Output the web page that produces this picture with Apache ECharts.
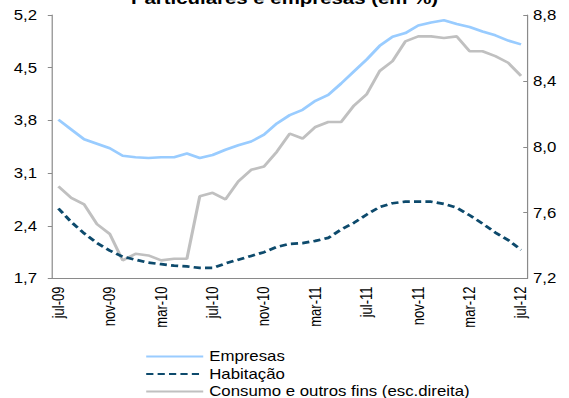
<!DOCTYPE html>
<html>
<head>
<meta charset="utf-8">
<script src="https://cdn.jsdelivr.net/npm/echarts@6/dist/echarts.min.js"></script>
<style>
  html, body { margin: 0; padding: 0; background: #fff; overflow: hidden; }
  /* the chart is laid out narrow and widened horizontally, giving the wide lettering */
  #chart { width: 474px; height: 398px; transform: scaleX(1.2004); transform-origin: 0 0; }
</style>
</head>
<body>
<div id="chart"></div>
<script>
// Months (jul-09 .. jul-12)
const months = [
  'jul-09','ago-09','set-09','out-09','nov-09','dez-09','jan-10','fev-10','mar-10','abr-10','mai-10','jun-10',
  'jul-10','ago-10','set-10','out-10','nov-10','dez-10','jan-11','fev-11','mar-11','abr-11','mai-11','jun-11',
  'jul-11','ago-11','set-11','out-11','nov-11','dez-11','jan-12','fev-12','mar-12','abr-12','mai-12','jun-12',
  'jul-12'
];

// Interest rates, % (left axis)
const empresas = [
  3.81, 3.68, 3.55, 3.49, 3.43, 3.33, 3.31, 3.30, 3.31, 3.31, 3.36, 3.30,
  3.34, 3.41, 3.47, 3.52, 3.61, 3.76, 3.87, 3.94, 4.06, 4.14, 4.29, 4.45,
  4.61, 4.79, 4.91, 4.96, 5.06, 5.10, 5.13, 5.08, 5.04, 4.98, 4.93, 4.86,
  4.81
];
const habitacao = [
  2.63, 2.45, 2.30, 2.17, 2.07, 1.99, 1.95, 1.91, 1.89, 1.87, 1.86, 1.84,
  1.84, 1.90, 1.95, 2.00, 2.05, 2.12, 2.16, 2.17, 2.20, 2.24, 2.35, 2.44,
  2.55, 2.65, 2.70, 2.72, 2.72, 2.72, 2.69, 2.64, 2.54, 2.43, 2.31, 2.21,
  2.08
];
// Consumer and other credit, % (right axis)
const consumo = [
  7.76, 7.69, 7.65, 7.53, 7.47, 7.31, 7.35, 7.34, 7.31, 7.32, 7.32, 7.70,
  7.72, 7.68, 7.79, 7.86, 7.88, 7.97, 8.08, 8.05, 8.12, 8.15, 8.15, 8.25,
  8.32, 8.46, 8.52, 8.64, 8.67, 8.67, 8.66, 8.67, 8.58, 8.58, 8.55, 8.51,
  8.43
];

const seriesNames = ['Empresas', 'Habitação', 'Consumo e outros fins (esc.direita)'];

const FONT = '"Liberation Sans", Arial, sans-serif';
const AXIS_GREY = '#8a8a8a';
const commaFmt = v => v.toFixed(1).replace('.', ',');

const chart = echarts.init(document.getElementById('chart'), null, { renderer: 'svg' });

chart.setOption({
  animation: false,
  backgroundColor: '#fff',
  title: {
    text: 'Particulares e empresas (em %)',
    left: 'center',
    top: -15,
    textStyle: { fontFamily: FONT, fontSize: 17, fontWeight: 'bold', color: '#000' }
  },
  grid: { left: 43.3, right: 34.6, top: 15, bottom: 119.5, containLabel: false },
  legend: {
    orient: 'vertical',
    left: 120.8,
    top: 349.5,
    height: 60,
    itemWidth: 47.5,
    itemHeight: 14,
    itemGap: 3.5,
    padding: 0,
    data: seriesNames,
    // line-only keys: the point marker is left transparent
    itemStyle: { color: 'rgba(0,0,0,0)', borderWidth: 0, opacity: 0 },
    textStyle: { fontFamily: FONT, fontSize: 14, color: '#000', lineHeight: 14 }
  },
  xAxis: {
    type: 'category',
    data: months,
    boundaryGap: true,
    axisLine: { lineStyle: { color: AXIS_GREY, width: 1 } },
    axisTick: { inside: true, length: 4, interval: 3, lineStyle: { color: AXIS_GREY } },
    axisLabel: {
      interval: 3, rotate: 90, margin: 8,
      fontFamily: FONT, fontSize: 13, color: '#000'
    },
    splitLine: { show: false }
  },
  yAxis: [
    {
      type: 'value',
      min: 1.7, max: 5.2, interval: 0.7,
      axisLine: { show: true, lineStyle: { color: AXIS_GREY, width: 1 } },
      axisTick: { show: true, length: 3.5, lineStyle: { color: AXIS_GREY } },
      axisLabel: { formatter: commaFmt, margin: 12.5, fontFamily: FONT, fontSize: 14, color: '#000' },
      splitLine: { show: false }
    },
    {
      type: 'value',
      min: 7.2, max: 8.8, interval: 0.4,
      position: 'right',
      axisLine: { show: true, lineStyle: { color: AXIS_GREY, width: 1 } },
      axisTick: { show: true, inside: true, length: 3.5, lineStyle: { color: AXIS_GREY } },
      axisLabel: { formatter: commaFmt, margin: 4.6, fontFamily: FONT, fontSize: 14, color: '#000' },
      splitLine: { show: false }
    }
  ],
  series: [
    {
      name: seriesNames[0], type: 'line', yAxisIndex: 0, data: empresas,
      symbol: 'none', z: 3,
      lineStyle: { color: '#99ccff', width: 2.6 }, itemStyle: { color: '#99ccff' }
    },
    {
      name: seriesNames[1], type: 'line', yAxisIndex: 0, data: habitacao,
      symbol: 'none', z: 4,
      lineStyle: { color: '#0d4a6c', width: 2.7, type: [6, 3.5] }, itemStyle: { color: '#0d4a6c' }
    },
    {
      name: seriesNames[2], type: 'line', yAxisIndex: 1, data: consumo,
      symbol: 'none', z: 2,
      lineStyle: { color: '#c0c0c0', width: 2.6 }, itemStyle: { color: '#c0c0c0' }
    }
  ]
});
</script>
</body>
</html>
